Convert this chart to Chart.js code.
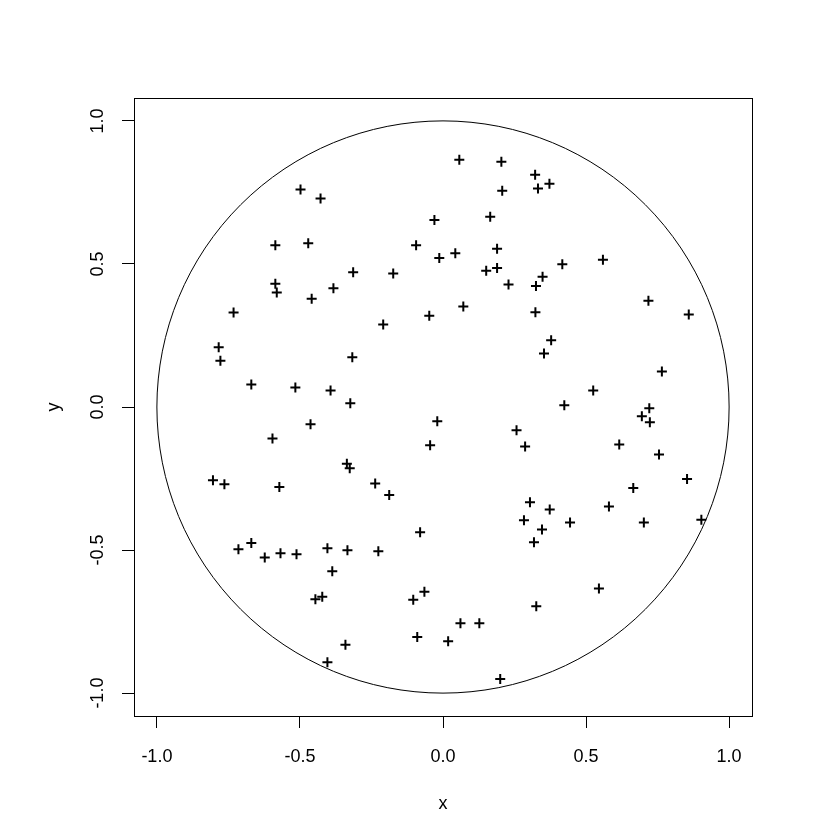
<!DOCTYPE html>
<html>
<head>
<meta charset="utf-8">
<script src="https://cdn.jsdelivr.net/npm/chart.js@4/dist/chart.umd.min.js"></script>
<style>
  html, body { margin: 0; padding: 0; background: #ffffff; }
  #wrap { width: 840px; height: 840px; }
</style>
</head>
<body>
<div id="wrap"><canvas id="c" width="840" height="840"></canvas></div>
<script>
// ---- data ----
const X_VALUES = [
  -0.498, -0.428, -0.586, -0.471, -0.586, -0.581, -0.383, -0.459,
   0.057,  0.204,  0.322,  0.332,  0.372,  0.207, -0.030,  0.165,
  -0.094,  0.189,  0.043, -0.013, -0.314, -0.174,  0.151,  0.189,
   0.229,  0.325,  0.348,  0.559,  0.417,  0.718, -0.732, -0.784,
  -0.778, -0.670, -0.516, -0.393, -0.463, -0.596, -0.804, -0.764,
  -0.572,  0.071,  0.323, -0.048, -0.209, -0.317,  0.353, -0.324,
  -0.020,  0.257, -0.045,  0.287, -0.336, -0.326, -0.237, -0.188,
   0.304,  0.859,  0.378,  0.765,  0.525,  0.424,  0.721,  0.695,
   0.723,  0.616,  0.755,  0.853,  0.665,  0.580,  0.373, -0.715,
  -0.670, -0.623, -0.568, -0.512, -0.404, -0.387, -0.446, -0.422,
  -0.404, -0.334, -0.226, -0.080,  0.283,  0.346,  0.318, -0.104,
  -0.065,  0.326,  0.061,  0.127, -0.341, -0.090,  0.018,  0.200,
   0.444,  0.702,  0.903,  0.545
];
const Y_VALUES = [
   0.760,  0.729,  0.565,  0.572,  0.431,  0.400,  0.415,  0.378,
   0.864,  0.857,  0.812,  0.764,  0.780,  0.756,  0.654,  0.665,
   0.565,  0.553,  0.537,  0.521,  0.471,  0.467,  0.476,  0.486,
   0.428,  0.423,  0.455,  0.515,  0.499,  0.371,  0.330,  0.209,
   0.162,  0.079,  0.068,  0.058, -0.060, -0.110, -0.256, -0.270,
  -0.280,  0.351,  0.331,  0.319,  0.288,  0.174,  0.187,  0.013,
  -0.050, -0.081, -0.134, -0.138, -0.198, -0.214, -0.267, -0.308,
  -0.333,  0.323,  0.233,  0.124,  0.058,  0.006, -0.004, -0.032,
  -0.053, -0.131, -0.166, -0.252, -0.283, -0.348, -0.358, -0.497,
  -0.475, -0.526, -0.511, -0.515, -0.494, -0.574, -0.672, -0.663,
  -0.892, -0.501, -0.504, -0.438, -0.396, -0.428, -0.473, -0.674,
  -0.646, -0.696, -0.756, -0.756, -0.831, -0.804, -0.819, -0.951,
  -0.404, -0.404, -0.394, -0.634
];
const X_TICKS = [-1.0, -0.5, 0.0, 0.5, 1.0];
const Y_TICKS = [-1.0, -0.5, 0.0, 0.5, 1.0];
const X_TITLE = 'x';
const Y_TITLE = 'y';
const AXIS_MIN = -1.08;
const AXIS_MAX = 1.08;
const CIRCLE_CENTER = [0, 0];
const CIRCLE_RADIUS = 1;

const points = X_VALUES.map((xv, i) => ({ x: xv, y: Y_VALUES[i] }));

const FONT = { family: '"Liberation Sans", Arial, sans-serif', size: 18 };

const framePlugin = {
  id: 'frameAndCircle',
  beforeDatasetsDraw(chart) {
    const { ctx, chartArea: a, scales } = chart;
    const sx = scales.x, sy = scales.y;
    ctx.save();
    ctx.strokeStyle = '#000000';
    ctx.lineWidth = 1;
    // plot box
    ctx.strokeRect(Math.round(a.left) + 0.5, Math.round(a.top) + 0.5,
                   Math.round(a.right - a.left), Math.round(a.bottom - a.top));
    // unit circle through the scales
    const cx = sx.getPixelForValue(CIRCLE_CENTER[0]);
    const cy = sy.getPixelForValue(CIRCLE_CENTER[1]);
    const rx = Math.abs(sx.getPixelForValue(CIRCLE_CENTER[0] + CIRCLE_RADIUS) - cx);
    const ry = Math.abs(sy.getPixelForValue(CIRCLE_CENTER[1] + CIRCLE_RADIUS) - cy);
    ctx.beginPath();
    ctx.ellipse(cx, cy, rx, ry, 0, 0, Math.PI * 2);
    ctx.stroke();
    ctx.restore();
  }
};

new Chart(document.getElementById('c'), {
  type: 'scatter',
  data: {
    datasets: [{
      data: points,
      pointStyle: 'cross',
      pointRadius: 5,
      pointHoverRadius: 5,
      borderColor: '#000000',
      backgroundColor: '#000000',
      pointBorderWidth: 2,
      borderWidth: 2
    }]
  },
  options: {
    responsive: false,
    animation: false,
    devicePixelRatio: 1,
    layout: { padding: { left: 0, right: 88, top: 98, bottom: 0 } },
    plugins: { legend: { display: false }, tooltip: { enabled: false } },
    events: [],
    scales: {
      x: {
        type: 'linear',
        position: 'bottom',
        min: AXIS_MIN,
        max: AXIS_MAX,
        afterBuildTicks: (s) => { s.ticks = X_TICKS.map(v => ({ value: v })); },
        afterFit: (s) => { s.height = 124; },
        grid: { display: true, drawOnChartArea: false, drawTicks: true, tickLength: 12, color: '#000000', lineWidth: 1 },
        border: { display: false },
        ticks: {
          color: '#000000', font: FONT, padding: 18, maxRotation: 0, minRotation: 0,
          autoSkip: false,
          callback: (v) => Number(v).toFixed(1)
        },
        title: { display: true, text: X_TITLE, color: '#000000', font: FONT, padding: { top: 0, bottom: 25 } }
      },
      y: {
        type: 'linear',
        position: 'left',
        min: AXIS_MIN,
        max: AXIS_MAX,
        afterBuildTicks: (s) => { s.ticks = Y_TICKS.map(v => ({ value: v })); },
        afterFit: (s) => { s.width = 134; },
        grid: { display: true, drawOnChartArea: false, drawTicks: true, tickLength: 12, color: '#000000', lineWidth: 1 },
        border: { display: false },
        ticks: {
          color: '#000000', font: FONT, padding: 8, minRotation: 90, maxRotation: 90,
          crossAlign: 'center', autoSkip: false,
          callback: (v) => Number(v).toFixed(1)
        },
        title: { display: true, text: Y_TITLE, color: '#000000', font: FONT, padding: { top: 43, bottom: 0 } }
      }
    }
  },
  plugins: [framePlugin]
});
</script>
</body>
</html>
